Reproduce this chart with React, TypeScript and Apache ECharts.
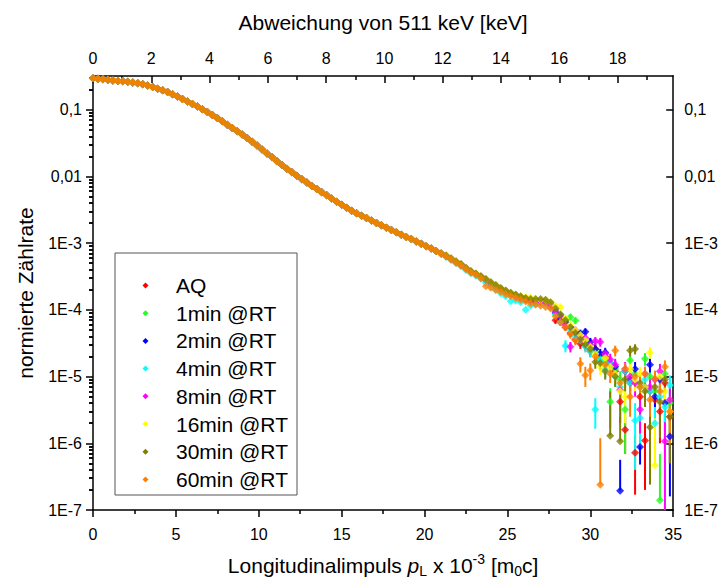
import React, { useEffect, useRef } from "react";
import * as echarts from "echarts";

// ---------- data ----------
const pL = [
  0, 0.3, 0.6, 0.9, 1.2, 1.5, 1.8, 2.1, 2.4, 2.7, 3, 3.3, 3.6, 3.9, 4.2, 4.5, 4.8, 5.1, 5.4, 5.7,
  6, 6.3, 6.6, 6.9, 7.2, 7.5, 7.8, 8.1, 8.4, 8.7, 9, 9.3, 9.6, 9.9, 10.2, 10.5, 10.8, 11.1, 11.4, 11.7,
  12, 12.3, 12.6, 12.9, 13.2, 13.5, 13.8, 14.1, 14.4, 14.7, 15, 15.3, 15.6, 15.9, 16.2, 16.5, 16.8, 17.1, 17.4, 17.7,
  18, 18.3, 18.6, 18.9, 19.2, 19.5, 19.8, 20.1, 20.4, 20.7, 21,
  21.3, 21.6, 21.9, 22.2, 22.5, 22.8, 23.1, 23.4, 23.7, 24, 24.3, 24.6, 24.9, 25.2, 25.5, 25.8, 26.1, 26.4, 26.7, 27,
  27.3, 27.6, 27.9, 28.2, 28.5, 28.8, 29.1, 29.4, 29.7, 30, 30.3, 30.6, 30.9, 31.2, 31.5, 31.8, 32.1, 32.4, 32.7, 33,
  33.3, 33.6, 33.9, 34.2, 34.5, 34.8,
];

// shared part of all spectra (p_L = 0 ... 21), where all series coincide
const headCurve = [
  0.295, 0.29, 0.286, 0.281, 0.275, 0.27, 0.266, 0.262, 0.256, 0.249, 0.241, 0.231, 0.219, 0.206, 0.195, 0.184, 0.171, 0.158, 0.145, 0.133,
  0.122, 0.112, 0.102, 0.0924, 0.0836, 0.0752, 0.067, 0.0597, 0.0532, 0.0474, 0.0424, 0.0377, 0.0331, 0.029, 0.0253, 0.022, 0.0193, 0.0169, 0.0148, 0.013,
  0.0115, 0.0102, 0.0091, 0.0081, 0.0072, 0.0065, 0.0058, 0.0052, 0.00465, 0.00418, 0.00377, 0.0034, 0.00307, 0.0028, 0.00257, 0.00238, 0.00219, 0.00201, 0.00185, 0.0017,
  0.00157, 0.00145, 0.00134, 0.00124, 0.00115, 0.00106, 0.00098, 0.0009, 0.00083, 0.00076, 0.0007,
];

// individual tails, p_L = 21.3 ... 34.8
const tailAQ = [
  6.4e-4, 5.8e-4, 5.2e-4, 4.7e-4, 4.15e-4, 3.7e-4, 3.4e-4, 3.1e-4, 2.75e-4, 2.5e-4, 2.25e-4, 2.02e-4, 1.85e-4, 1.72e-4, 1.6e-4, 1.5e-4, 1.42e-4, 1.33e-4, 1.3e-4, 1.3e-4, 1.28e-4, 1.1e-4,
  7.0e-5, 6.5e-5, 5.5e-5, 4.5e-5, 3.6e-5, 3.1e-5, 2.9e-5, 2.4e-5, 2.6e-5, 1.9e-5, 2.0e-5, 1.5e-5, 1.2e-5, 4.2e-6, 1.6e-6, 8.0e-6, 7.2e-7, 5.0e-6, 1.1e-6, 6.0e-6, 4.5e-6, 3.0e-6, 8.0e-6, 2.5e-6,
];
const tail1min = [
  6.5e-4, 5.9e-4, 5.3e-4, 4.75e-4, 4.2e-4, 3.75e-4, 3.45e-4, 3.1e-4, 2.8e-4, 2.55e-4, 2.3e-4, 2.03e-4, 1.9e-4, 1.75e-4, 1.62e-4, 1.52e-4, 1.45e-4, 1.38e-4, 1.32e-4, 1.32e-4, 1.3e-4, 1.2e-4,
  1.0e-4, 8.5e-5, 7.0e-5, 7.8e-5, 6.9e-5, 4.5e-5, 3.5e-5, 3.0e-5, 2.4e-5, 1.9e-5, 1.7e-5, 4.2e-6, 1.3e-5, 9e-6, 3.2e-6, 1.75e-5, 1.1e-5, 7e-6, 1.85e-5, 1.0e-5, 6e-6, 1.4e-7, 1.1e-5, 4e-6,
];
const tail2min = [
  6.4e-4, 5.85e-4, 5.25e-4, 4.8e-4, 4.2e-4, 3.75e-4, 3.45e-4, 3.15e-4, 2.85e-4, 2.55e-4, 2.3e-4, 2.07e-4, 1.9e-4, 1.78e-4, 1.65e-4, 1.55e-4, 1.47e-4, 1.38e-4, 1.35e-4, 1.35e-4, 1.33e-4, 1.2e-4,
  9.0e-5, 7.5e-5, 6.5e-5, 5.5e-5, 4.6e-5, 4.4e-5, 4.7e-5, 3.3e-5, 2.6e-5, 2.2e-5, 2.3e-5, 1.6e-5, 1.4e-5, 1.95e-7, 1.2e-5, 9e-6, 1.3e-5, 8.8e-7, 7e-6, 1.5e-5, 5e-6, 9e-6, 4e-6, 1.26e-6,
];
const tail4min = [
  6.2e-4, 5.6e-4, 5.0e-4, 4.5e-4, 3.95e-4, 3.55e-4, 3.25e-4, 2.95e-4, 2.55e-4, 2.25e-4, 2.0e-4, 1.78e-4, 1.6e-4, 1.35e-4, 1.38e-4, 1.3e-4, 1.0e-4, 1.15e-4, 1.2e-4, 1.25e-4, 1.22e-4, 1.1e-4,
  8.5e-5, 6.5e-5, 2.9e-5, 5.0e-5, 4.0e-5, 3.5e-5, 2.8e-5, 2.4e-5, 3.2e-6, 1.8e-5, 1.3e-5, 1.6e-5, 1.0e-5, 7e-6, 1.2e-5, 8e-6, 2.2e-6, 2.4e-6, 9e-6, 6e-6, 2.0e-6, 5e-6, 3.5e-6, 7.4e-6,
];
const tail8min = [
  6.4e-4, 5.9e-4, 5.3e-4, 4.75e-4, 4.2e-4, 3.75e-4, 3.45e-4, 3.15e-4, 2.85e-4, 2.55e-4, 2.3e-4, 2.07e-4, 1.9e-4, 1.75e-4, 1.63e-4, 1.52e-4, 1.45e-4, 1.4e-4, 1.38e-4, 1.35e-4, 1.3e-4, 1.15e-4,
  9.5e-5, 8.0e-5, 6.0e-5, 2.8e-5, 5.0e-5, 4.0e-5, 3.8e-5, 3.0e-5, 3.4e-5, 3.3e-5, 2.2e-5, 1.8e-5, 1.5e-5, 6.3e-6, 1.3e-5, 1.0e-5, 8e-6, 3.2e-6, 1.1e-5, 7e-6, 9e-6, 1.2e-5, 1.07e-6, 4.5e-6,
];
const tail16min = [
  6.5e-4, 5.95e-4, 5.35e-4, 4.85e-4, 4.25e-4, 3.8e-4, 3.5e-4, 3.2e-4, 2.9e-4, 2.6e-4, 2.35e-4, 2.12e-4, 1.95e-4, 1.8e-4, 1.68e-4, 1.6e-4, 1.55e-4, 1.55e-4, 1.45e-4, 1.4e-4, 1.4e-4, 1.3e-4,
  1.15e-4, 1.1e-4, 7.5e-5, 6.0e-5, 5.0e-5, 4.2e-5, 3.5e-5, 2.8e-5, 2.2e-5, 1.4e-5, 1.9e-5, 1.4e-5, 1.1e-5, 6e-6, 5e-6, 1.3e-5, 9e-6, 1.1e-5, 7e-6, 2.3e-5, 4.7e-7, 1.0e-5, 6e-6, 3e-6,
];
const tail30min = [
  6.5e-4, 5.9e-4, 5.3e-4, 4.85e-4, 4.25e-4, 3.8e-4, 3.5e-4, 3.2e-4, 2.9e-4, 2.6e-4, 2.35e-4, 2.12e-4, 1.95e-4, 1.8e-4, 1.7e-4, 1.6e-4, 1.5e-4, 1.45e-4, 1.45e-4, 1.45e-4, 1.42e-4, 1.3e-4,
  1.05e-4, 8.5e-5, 7e-5, 5.5e-5, 4.5e-5, 3.6e-5, 3.0e-5, 2.6e-5, 1.66e-5, 1.6e-5, 1.2e-5, 1.3e-6, 1.0e-5, 1.07e-6, 9e-6, 2.45e-5, 2.6e-5, 8e-6, 6e-6, 1.74e-6, 7e-6, 4.2e-6, 9e-6, 2.5e-6,
];
const tail60min = [
  6.3e-4, 5.7e-4, 5.1e-4, 4.6e-4, 4.05e-4, 3.6e-4, 3.35e-4, 2.95e-4, 2.25e-4, 2.15e-4, 1.98e-4, 1.85e-4, 1.72e-4, 1.6e-4, 1.5e-4, 1.4e-4, 1.33e-4, 1.25e-4, 1.2e-4, 1.15e-4, 1.1e-4, 1.05e-4,
  8e-5, 6.5e-5, 5.5e-5, 4.3e-5, 3.5e-5, 1.55e-5, 1.05e-5, 1.23e-5, 2.0e-5, 2.4e-7, 1.5e-5, 1.1e-5, 2.45e-5, 8e-6, 1.3e-5, 5e-6, 1.0e-5, 7e-6, 1.1e-5, 4.5e-6, 9.3e-6, 6e-6, 1.4e-5, 3e-6,
];

// error bars (sigma), p_L = 27.9 ... 34.8
const errFromPL = 27.9;
const errAQ = [8e-6, 7e-6, 6e-6, 6e-6, 5e-6, 5e-6, 5e-6, 4.5e-6, 4.5e-6, 4e-6, 4e-6, 3.5e-6, 3.5e-6, 2.2e-6, 9e-7, 3e-6, 5.5e-7, 2.5e-6, 9e-7, 3e-6, 2.5e-6, 2e-6, 3e-6, 2e-6];
const err1min = [8e-6, 7e-6, 7e-6, 7e-6, 7e-6, 6e-6, 5e-6, 5e-6, 4.5e-6, 4e-6, 4e-6, 2.5e-6, 3.5e-6, 3e-6, 2.5e-6, 4e-6, 3.5e-6, 3e-6, 4e-6, 3e-6, 2.5e-6, 5.5e-7, 3.5e-6, 2.5e-6];
const err2min = [8e-6, 7e-6, 6e-6, 6e-6, 5.5e-6, 5.5e-6, 5.5e-6, 5e-6, 4.5e-6, 4e-6, 4e-6, 3.5e-6, 3.5e-6, 3.7e-7, 3e-6, 3e-6, 3.5e-6, 4e-7, 2.5e-6, 3.5e-6, 2e-6, 3e-6, 2e-6, 1.1e-6];
const err4min = [8e-6, 7e-6, 6e-6, 6e-6, 5.5e-6, 5e-6, 5e-6, 4.5e-6, 1.55e-6, 4e-6, 3.5e-6, 4e-6, 3e-6, 2.5e-6, 3.5e-6, 3e-6, 1.8e-6, 1.5e-6, 3e-6, 2.5e-6, 1.5e-6, 2.5e-6, 2e-6, 3e-6];
const err8min = [8e-6, 7e-6, 6e-6, 5e-6, 5.5e-6, 5e-6, 5e-6, 4.5e-6, 5e-6, 5e-6, 4e-6, 4e-6, 3.5e-6, 2.5e-6, 3.5e-6, 3e-6, 3e-6, 1.8e-6, 3e-6, 2.5e-6, 3e-6, 3.5e-6, 1.0e-6, 2.5e-6];
const err16min = [8e-6, 8e-6, 7e-6, 6e-6, 5.5e-6, 5e-6, 5e-6, 4.5e-6, 4e-6, 3.5e-6, 4e-6, 3.5e-6, 3e-6, 3.5e-6, 3e-6, 3.5e-6, 3e-6, 3e-6, 2.5e-6, 4.5e-6, 1.9e-6, 3e-6, 2.5e-6, 2e-6];
const err30min = [8e-6, 7e-6, 6e-6, 6e-6, 5.5e-6, 5e-6, 5e-6, 4.5e-6, 3.5e-6, 3.5e-6, 3e-6, 4.7e-6, 3e-6, 5.5e-6, 3e-6, 4.5e-6, 4.5e-6, 2.5e-6, 2.5e-6, 1.5e-6, 2.5e-6, 3e-6, 3e-6, 2e-6];
const err60min = [8e-6, 7e-6, 6e-6, 6e-6, 5.5e-6, 4e-6, 3.5e-6, 3.5e-6, 4e-6, 9.5e-7, 3.5e-6, 3e-6, 4.5e-6, 2.5e-6, 3e-6, 2.5e-6, 3e-6, 2.5e-6, 3e-6, 2e-6, 3e-6, 2.5e-6, 3.5e-6, 2e-6];

const seriesNames = ["AQ", "1min @RT", "2min @RT", "4min @RT", "8min @RT", "16min @RT", "30min @RT", "60min @RT"];
const seriesColors = ["#ff0000", "#22ff22", "#0000ff", "#00ffff", "#ff00ff", "#ffff00", "#808000", "#ff8000"];
const seriesTails = [tailAQ, tail1min, tail2min, tail4min, tail8min, tail16min, tail30min, tail60min];
const seriesErrs = [errAQ, err1min, err2min, err4min, err8min, err16min, err30min, err60min];

// axes / tick labels
const xMin = 0;
const xMax = 35;
const topMax = 19.91;
const topMajorTicks = [0, 2, 4, 6, 8, 10, 12, 14, 16, 18];
const topMinorTicks = [1, 3, 5, 7, 9, 11, 13, 15, 17, 19];
const yMin = 1e-7;
const yMax = 0.32;
const yDecades = [1e-7, 1e-6, 1e-5, 1e-4, 1e-3, 0.01, 0.1];
const yDecadeLabels = ["1E-7", "1E-6", "1E-5", "1E-4", "1E-3", "0,01", "0,1"];
const yMinorMantissas = [2, 3, 4, 5, 6, 7, 8, 9];

const FONT = '"Liberation Sans", Arial, sans-serif';

export default function App() {
  const ref = useRef<HTMLDivElement>(null);

  useEffect(() => {
    if (!ref.current) return;
    const chart = echarts.init(ref.current, undefined, { renderer: "svg" });

    const yMinorTicks = yDecades
      .flatMap((d) => yMinorMantissas.map((m) => m * d))
      .filter((v) => v <= yMax);
    const errStart = pL.indexOf(errFromPL);

    const fmtY = (v: number) => {
      const i = yDecades.findIndex((d) => Math.abs(Math.log10(d) - Math.log10(v)) < 1e-6);
      return i >= 0 ? yDecadeLabels[i] : "";
    };

    const buildData = (s: number) =>
      pL.map((x, j) => {
        const y = j < headCurve.length ? headCurve[j] : seriesTails[s][j - headCurve.length];
        const e = j >= errStart ? seriesErrs[s][j - errStart] : 0;
        return [x, y, e];
      });

    const lineStyle = { color: "#000", width: 1.5 };
    const labelStyle = { fontSize: 16, color: "#000", fontFamily: FONT };

    const series: any[] = [];
    seriesNames.forEach((name, s) => {
      const data = buildData(s);
      const color = seriesColors[s];
      series.push({
        type: "custom",
        name,
        xAxisIndex: 0,
        yAxisIndex: 0,
        data,
        encode: { x: 0, y: 1 },
        itemStyle: { color },
        silent: true,
        clip: true,
        renderItem: (_p: any, api: any) => {
          const x = api.value(0) as number;
          const y = api.value(1) as number;
          const e = api.value(2) as number;
          if (!e) return { type: "group", children: [] };
          const top = api.coord([x, y + e]);
          const lowVal = y - e > yMin ? y - e : y - e > 0 ? yMin : y;
          const bot = api.coord([x, lowVal]);
          return {
            type: "line",
            shape: { x1: top[0], y1: top[1], x2: bot[0], y2: bot[1] },
            style: { stroke: color, lineWidth: 2 },
          };
        },
      });
      series.push({
        type: "scatter",
        name,
        xAxisIndex: 0,
        yAxisIndex: 0,
        data,
        symbol: "diamond",
        symbolSize: 8,
        itemStyle: { color },
        silent: true,
      });
    });

    const yBase = {
      type: "log",
      logBase: 10,
      min: yMin,
      max: yMax,
      splitLine: { show: false },
      minorTick: { show: false },
      nameMoveOverlap: false,
    };

    const option: any = {
      animation: false,
      backgroundColor: "#fff",
      textStyle: { fontFamily: FONT },
      grid: { left: 93, right: 47, top: 76, bottom: 71 },
      legend: {
        orient: "vertical",
        left: 142.5,
        top: 275,
        padding: 0,
        itemWidth: 6,
        itemHeight: 6,
        itemGap: 6.7,
        selectedMode: false,
        data: seriesNames.map((n) => ({ name: n, icon: "diamond" })),
        textStyle: { fontSize: 21, lineHeight: 20, color: "#000", fontFamily: FONT, padding: [0, 0, 0, 22.5] },
      },
      graphic: [
        {
          type: "rect",
          shape: { x: 115, y: 253, width: 182, height: 242 },
          style: { fill: "none", stroke: "#555", lineWidth: 1 },
          silent: true,
        },
      ],
      xAxis: [
        {
          type: "value",
          position: "bottom",
          min: xMin,
          max: xMax,
          interval: 5,
          splitLine: { show: false },
          axisLine: { show: true, onZero: false, lineStyle },
          axisTick: { show: true, length: 7, lineStyle },
          minorTick: { show: true, splitNumber: 2, length: 4, lineStyle },
          axisLabel: { ...labelStyle, margin: 16 },
          name: "{a|Longitudinalimpuls }{i|p}{s|L}{a| x 10}{u|-3}{a| [m}{s|0}{a|c]}",
          nameLocation: "middle",
          nameGap: 42,
          nameMoveOverlap: false,
          nameTextStyle: {
            color: "#000",
            fontFamily: FONT,
            rich: {
              a: { fontSize: 21, lineHeight: 26, color: "#000", fontFamily: FONT },
              i: { fontSize: 21, lineHeight: 26, fontStyle: "italic", color: "#000", fontFamily: FONT },
              s: { fontSize: 14, lineHeight: 14, verticalAlign: "bottom", color: "#000", fontFamily: FONT },
              u: { fontSize: 14, lineHeight: 14, verticalAlign: "top", color: "#000", fontFamily: FONT },
            },
          },
        },
        {
          type: "value",
          position: "top",
          min: 0,
          max: topMax,
          splitLine: { show: false },
          axisLine: { show: true, onZero: false, lineStyle },
          axisTick: { show: true, inside: true, length: 7, lineStyle, customValues: topMajorTicks },
          axisLabel: { ...labelStyle, margin: 10, customValues: topMajorTicks },
          name: "Abweichung von 511 keV [keV]",
          nameLocation: "middle",
          nameGap: 43,
          nameMoveOverlap: false,
          nameTextStyle: { fontSize: 21, color: "#000", fontFamily: FONT },
        },
        {
          type: "value",
          position: "top",
          min: 0,
          max: topMax,
          splitLine: { show: false },
          axisLine: { show: false },
          axisTick: { show: true, inside: true, length: 4, lineStyle, customValues: topMinorTicks },
          axisLabel: { show: false },
        },
      ],
      yAxis: [
        {
          ...yBase,
          position: "left",
          axisLine: { show: true, onZero: false, lineStyle },
          axisTick: { show: true, length: 7, lineStyle, customValues: yDecades },
          axisLabel: { ...labelStyle, margin: 11, customValues: yDecades, formatter: fmtY },
          name: "normierte Zählrate",
          nameLocation: "middle",
          nameGap: 57,
          nameTextStyle: { fontSize: 21, color: "#000", fontFamily: FONT },
        },
        {
          ...yBase,
          position: "left",
          axisLine: { show: false },
          axisTick: { show: true, length: 4, lineStyle, customValues: yMinorTicks },
          axisLabel: { show: false },
        },
        {
          ...yBase,
          position: "right",
          axisLine: { show: true, onZero: false, lineStyle },
          axisTick: { show: true, inside: true, length: 7, lineStyle, customValues: yDecades },
          axisLabel: { ...labelStyle, margin: 11, customValues: yDecades, formatter: fmtY },
        },
        {
          ...yBase,
          position: "right",
          axisLine: { show: false },
          axisTick: { show: true, inside: true, length: 4, lineStyle, customValues: yMinorTicks },
          axisLabel: { show: false },
        },
      ],
      series,
    };

    chart.setOption(option);
    return () => chart.dispose();
  }, []);

  return (
    <div
      ref={ref}
      style={{ position: "absolute", left: 0, top: 0, width: 721, height: 583, background: "#fff" }}
    />
  );
}
